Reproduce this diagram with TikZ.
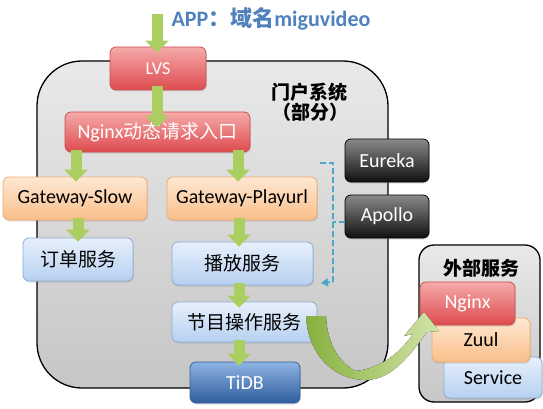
\documentclass[tikz,border=0pt]{standalone}
\usepackage{fontspec}
\setmainfont{Carlito}
\newfontfamily\cjk{Noto Sans CJK SC}
\usetikzlibrary{arrows.meta,shadows}
\definecolor{redtop}{RGB}{245,170,170}
\definecolor{redbot}{RGB}{222,74,78}
\definecolor{redline}{RGB}{200,80,80}
\definecolor{ortop}{RGB}{254,232,210}
\definecolor{orbot}{RGB}{249,190,138}
\definecolor{orline}{RGB}{240,170,110}
\definecolor{lbtop}{RGB}{230,240,252}
\definecolor{lbbot}{RGB}{183,208,240}
\definecolor{lbline}{RGB}{142,173,214}
\definecolor{dbtop}{RGB}{141,179,226}
\definecolor{dbbot}{RGB}{47,94,158}
\definecolor{dbline}{RGB}{51,95,153}
\definecolor{dktop}{RGB}{138,138,138}
\definecolor{dkbot}{RGB}{16,16,16}
\definecolor{graytop}{RGB}{233,233,233}
\definecolor{graybot}{RGB}{198,198,198}
\definecolor{agreen}{RGB}{170,206,95}
\definecolor{cgreendark}{RGB}{135,176,62}
\definecolor{cgreenlight}{RGB}{210,228,168}
\definecolor{dashblue}{RGB}{75,168,200}
\definecolor{titleblue}{RGB}{79,129,189}
\begin{document}
\begin{tikzpicture}[x=1pt,y=-1pt,
  box/.style={rounded corners=6pt, inner sep=0pt, line width=0.8pt,
    font=\fontsize{20}{22}\selectfont,
    drop shadow={opacity=0.25,shadow xshift=0.8pt,shadow yshift=-1.5pt}},
  redbox/.style={box, draw=redline, top color=redtop, bottom color=redbot, text=white},
  orbox/.style={box, draw=orline, top color=ortop, bottom color=orbot, text=black},
  lbbox/.style={box, draw=lbline, top color=lbtop, bottom color=lbbot, text=black},
  dbbox/.style={box, draw=dbline, top color=dbtop, bottom color=dbbot, text=white},
  dkbox/.style={box, draw=black, top color=dktop, bottom color=dkbot, text=white},
  container/.style={draw=black, line width=1.3pt, top color=graytop, bottom color=graybot, inner sep=0pt},
  cjkt/.style={font=\cjk\fontsize{19}{22}\selectfont},
  garrow/.style={draw=agreen, line width=11pt, -{Triangle[width=23pt,length=12pt]}},
  dashline/.style={draw=dashblue, line width=1.8pt, dash pattern=on 6pt off 3pt},
  titletext/.style={font=\cjk\bfseries\fontsize{19}{22}\selectfont}
]
\useasboundingbox (0,0) rectangle (543,409);
% containers
\node[container, rounded corners=45pt, minimum width=351pt, minimum height=327pt] (portal) at (212.5,224.5) {};
\node[container, rounded corners=15pt, minimum width=121pt, minimum height=157pt] (ext) at (479.5,323.5) {};
\node[titletext] (ptitle) at (309,92) {门户系统};
\node[titletext] (psub) at (310,112) {（部分）};
\node[titletext] (etitle) at (481,268) {外部服务};
% title
\node[text=titleblue, font=\bfseries\fontsize{22}{24}\selectfont] (app) at (271,19)
  {APP{\cjk\bfseries ：域名}miguvideo};
% boxes
\node[redbox, minimum width=96pt, minimum height=43pt, font=\fontsize{18}{20}\selectfont] (lvs) at (158,68.5) {LVS};
\node[redbox, minimum width=185pt, minimum height=40pt] (ngin) at (157.5,132) {Nginx{\cjk\fontsize{19}{22}\selectfont 动态请求入口}};
\node[orbox, minimum width=144pt, minimum height=43pt] (gs) at (75,198.5) {Gateway-Slow};
\node[orbox, minimum width=150pt, minimum height=43pt] (gp) at (242,198.5) {Gateway-Playurl};
\node[lbbox, cjkt, minimum width=110pt, minimum height=43pt] (dd) at (78,259.5) {订单服务};
\node[lbbox, cjkt, minimum width=141pt, minimum height=43pt] (bf) at (242.5,263.5) {播放服务};
\node[lbbox, cjkt, minimum width=145pt, minimum height=40pt] (jm) at (244.5,322) {节目操作服务};
\node[dbbox, minimum width=110pt, minimum height=41pt] (tidb) at (245,382.5) {TiDB};
\node[dkbox, minimum width=84pt, minimum height=43pt] (eureka) at (387,160.5) {Eureka};
\node[dkbox, minimum width=84pt, minimum height=43pt] (apollo) at (387,216.5) {Apollo};
\node[lbbox, minimum width=98pt, minimum height=41pt] (svc) at (493,377.5) {Service};
\node[orbox, minimum width=98pt, minimum height=44pt] (zuul) at (481,340) {Zuul};
\node[redbox, minimum width=95pt, minimum height=43pt] (ngx) at (467.5,303.5) {Nginx};
% green arrows
\coordinate (appin) at (157,14);
\draw[garrow, shorten >=-6pt] (appin) -- (appin |- lvs.north);
\draw[garrow, shorten <=-4pt, shorten >=-16pt] ([xshift=-1pt]lvs.south) -- ([xshift=-1pt]lvs.south |- ngin.north);
\draw[garrow, shorten <=-2pt, shorten >=-5pt] ([xshift=1pt]gs.north |- ngin.south) -- ([xshift=1pt]gs.north);
\draw[garrow, shorten <=-2pt, shorten >=-5pt] ([xshift=-4pt]gp.north |- ngin.south) -- ([xshift=-4pt]gp.north);
\draw[garrow, shorten <=-2pt, shorten >=-4pt] (dd.north |- gs.south) -- (dd.north);
\draw[garrow, shorten <=-2pt, shorten >=-5pt] ([xshift=-3.5pt]bf.north |- gp.south) -- ([xshift=-3.5pt]bf.north);
\draw[garrow, shorten <=-2pt, shorten >=-6pt] ([xshift=-5.5pt]jm.north |- bf.south) -- ([xshift=-5.5pt]jm.north);
\draw[garrow, shorten <=-2pt, shorten >=-4pt] ([xshift=-6pt]tidb.north |- jm.south) -- ([xshift=-6pt]tidb.north);
% dashed bracket
\coordinate (dtop) at (320,163);
\coordinate (dc1) at (333,163);
\coordinate (dmid) at (333,222);
\coordinate (dc2) at (333,282);
\coordinate (dend) at (321,283);
\draw[dashline, -{Triangle[width=8pt,length=7pt]}] (dtop) -- (dc1) -- (dc2) -- (dend);
\draw[dashline] (apollo.west |- dmid) -- (dmid);
% curved arrow from jm to ngx
\fill[left color=cgreendark, right color=cgreenlight]
  (306,316) .. controls (308,356) and (335,380) .. (366,380)
  .. controls (393,380) and (412,352) .. (427,332)
  -- (439,331) -- (424,312) -- (404,336) -- (413,334)
  .. controls (400,353) and (380,369) .. (355,371)
  .. controls (336,360) and (327,340) .. (326,316) -- cycle;
\end{tikzpicture}
\end{document}
